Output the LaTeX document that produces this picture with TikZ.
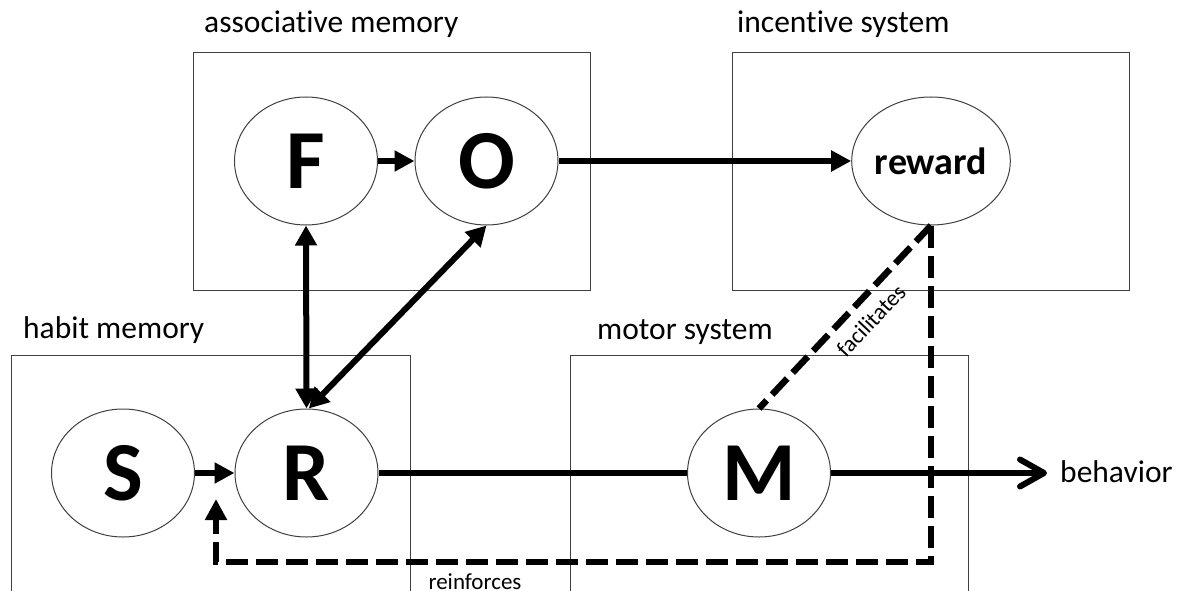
\documentclass[tikz,border=0pt]{standalone}
\usepackage{fontspec}
\setmainfont[Ligatures=NoCommon]{Carlito}
\usetikzlibrary{shapes.geometric, arrows.meta}

\definecolor{edgegray}{HTML}{404040}

\begin{document}
\begin{tikzpicture}[x=1pt, y=-1pt,
  panel/.style={draw=edgegray, line width=1.2pt, anchor=north west, inner sep=0pt,
    minimum height=238pt},
  paneltitle/.style={anchor=base west, inner sep=0pt, font=\fontsize{31.5}{36}\selectfont},
  unit/.style={ellipse, draw=edgegray, line width=1pt, fill=white,
    minimum width=143pt, minimum height=128pt, inner sep=0pt,
    font=\bfseries\fontsize{84}{90}\selectfont},
  link/.style={line width=6pt, -{Triangle[length=20pt, width=20pt]}},
  twoway/.style={line width=6pt,
    {Triangle[length=20pt, width=21pt]}-{Triangle[length=20pt, width=21pt]}},
  feedback/.style={line width=6.5pt, dash pattern=on 22pt off 8pt},
  note/.style={font=\fontsize{23}{27}\selectfont, inner sep=1pt},
]
\useasboundingbox (0,0) rectangle (1185,591);
\clip (0,0) rectangle (1185,591);

% system panels
\node[panel, minimum width=397pt] (assocbox) at (193,52) {};
\node[panel, minimum width=397pt] (incbox) at (732,52) {};
\node[panel, minimum width=399pt, minimum height=260pt] (habitbox) at (10.5,355) {};
\node[panel, minimum width=398pt, minimum height=260pt] (motorbox) at (570,355) {};

\node[paneltitle] (assoctitle) at (204,33) {associative memory};
\node[paneltitle] (inctitle) at (737,33) {incentive system};
\node[paneltitle] (habittitle) at (23,338) {habit memory};
\node[paneltitle] (motortitle) at (597,339) {motor system};

% units
\node[unit] (F) at (306,161) {F};
\node[unit] (O) at (486.5,161) {O};
\node[unit, font=\bfseries\fontsize{38}{44}\selectfont] (reward) at (931,161) {reward};
\node[unit] (S) at (123,473) {S};
\node[unit] (R) at (306.5,473) {R};
\node[unit] (M) at (759,473) {M};

\node[paneltitle] (beh) at (1060,482) {behavior};
\coordinate (behtip) at (1047,473);
\coordinate (fbturn) at (216,562);
\coordinate (fbtip) at (216,499);

% solid connections
\draw[link] (F) -- (O);
\draw[link] (O) -- (reward);
\draw[link] (S) -- (R);
\draw[twoway] (F.south) -- (R.north);
\draw[twoway] (O.south) -- (R.88);
\draw[line width=6pt] (R) -- (M);
\draw[line width=6pt, -{Straight Barb[length=24pt, width=27pt, line cap=round, line join=round]}]
  (M) -- (behtip);

% reward feedback
\draw[feedback] (reward.south) -- node[note, sloped, below=9pt, pos=0.44] (fac) {facilitates} (M.north);
\draw[feedback, -{Triangle[length=21pt, width=21pt]}] (reward.south) |- (fbturn) -- (fbtip);
\node[note, anchor=base] (reinf) at (475,589) {reinforces};
\end{tikzpicture}
\end{document}
